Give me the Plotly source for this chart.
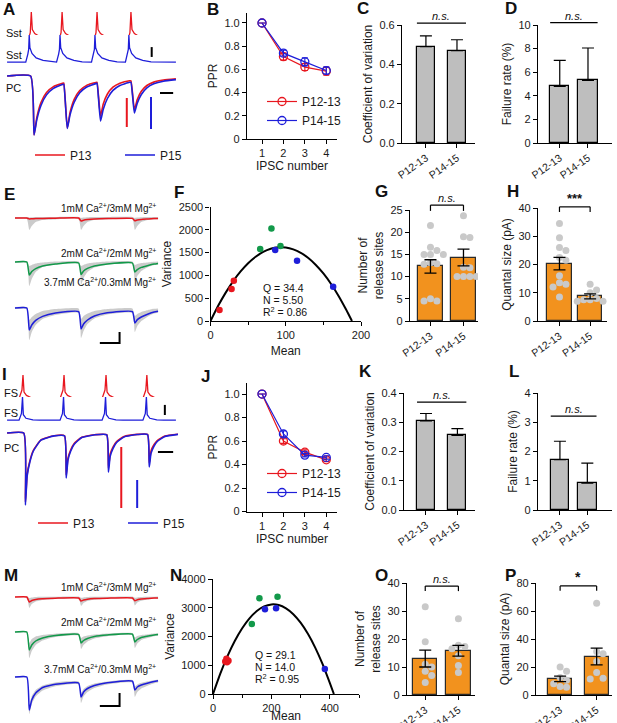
import plotly.graph_objects as go

W, H = 617, 723
FONT = "Liberation Sans, Arial, sans-serif"
RED, BLUE, GREEN = "#E8171F", "#1E1ED9", "#12994A"
ORANGE, BAR_GREY, DOT_GREY = "#F2921E", "#BEBEBE", "#C9C9C9"
GROUPS = ["P12-13", "P14-15"]

# ---------------- values ----------------
# A: Sst -> PC (ms, mV, pA)
A_SST_RED_PEAKS = [38, 82.5, 133, 182]
A_SST_BLUE_PEAKS = [35, 79.5, 130, 179]
SST_RED_SHAPE_T = [-4, -1.5, 0, 1.5, 5, 12, 22, 35]
SST_RED_SHAPE_V = [0, 20, 85, 30, 17, 8, 3, 0]
SST_BLUE_SHAPE_T = [-5, -2, -0.8, 0, 1, 4, 10, 20, 32]
SST_BLUE_SHAPE_V = [0, 25, 40, 85, 45, 27, 13, 5, 0.5]
A_IPSC_ONSETS = [37, 85, 133, 182]
A_IPSC_RED = [-590, -520, -400, -340]
A_IPSC_BLUE = [-590, -525, -450, -370]
A_DECAY_T = [5, 9, 15, 23, 33, 47]
A_DECAY_RED = [1, 0.7, 0.45, 0.28, 0.18, 0.12]
A_DECAY_BLUE = [1, 0.74, 0.5, 0.32, 0.21, 0.14]

# I: FS -> PC
I_FS_RED_PEAKS = [26, 85.3, 146, 205]
I_FS_BLUE_PEAKS = [25.3, 84.6, 145.3, 204.3]
FS_RED_SHAPE_T = [-6, -1.5, 0, 1.5, 5, 12, 25]
FS_RED_SHAPE_V = [0, 32, 85, 25, 13, 5, 0.5]
FS_BLUE_SHAPE_T = [-5, -1.5, 0, 1.2, 5, 15, 25]
FS_BLUE_SHAPE_V = [0, 25, 85, 20, 7, 1, 0]
I_IPSC_ONSETS = [27, 86, 147, 206]
I_IPSC_RED = [-690, -420, -350, -300]
I_IPSC_BLUE = [-720, -450, -390, -340]
I_DECAY_T = [2.5, 5, 9, 14, 25, 44]
I_DECAY = [1, 0.6, 0.4, 0.25, 0.1, 0.04]

# E / M: averaged IPSCs (coloured) and spread of single sweeps (grey), pA
T_EM = [1, 13, 15.5, 18, 22, 29, 42, 65.5, 68, 70.5, 74.5, 81.5, 94.5,
        120, 122.5, 125, 129, 136, 142, 146]
E_RED = [0, 0, -5, -4, -3, -2, -1, 0, -15, -11, -8, -5, -3, -2, -14, -10, -7, -5, -3, -2]
E_RED_LO = [-5, -5, -60, -40, -20, -10, -7, -6, -60, -40, -20, -10, -7, -6, -60, -40, -20, -10, -7, -6]
E_RED_HI = [5, 5, 3, 4, 5, 5, 5, 5, 0, 2, 4, 5, 5, 5, 0, 2, 4, 5, 5, 5]
E_GREEN = [0, 0, -65, -48, -33, -20, -10, -5, -62, -45, -32, -20, -10, -5, -50, -38, -27, -17, -10, -7]
E_GREEN_LO = [-5, -5, -120, -85, -50, -25, -12, -8, -115, -80, -50, -28, -14, -8, -95, -70, -45, -25, -15, -12]
E_GREEN_HI = [5, 5, -20, -15, -8, -3, 2, 3, -20, -15, -8, -3, 2, 3, -15, -10, -5, -2, 1, 2]
E_BLUE = [0, 0, -110, -85, -62, -42, -25, -18, -105, -80, -60, -40, -24, -18, -75, -58, -45, -30, -20, -16]
E_BLUE_LO = [-5, -5, -160, -120, -85, -55, -35, -25, -150, -115, -80, -52, -32, -25, -120, -90, -65, -42, -28, -24]
E_BLUE_HI = [5, 5, -60, -45, -30, -15, -5, -2, -55, -40, -28, -15, -5, -2, -40, -30, -20, -10, -4, -2]

M_RED = [0, 0, -50, -35, -25, -18, -12, -10, -40, -30, -22, -16, -12, -10, -38, -28, -20, -15, -11, -10]
M_RED_LO = [-6, -6, -110, -70, -45, -30, -20, -16, -90, -60, -40, -28, -18, -16, -85, -55, -38, -25, -18, -16]
M_RED_HI = [6, 6, -10, -5, 0, 2, 3, 4, -8, -4, 0, 2, 3, 4, -8, -4, 0, 2, 3, 4]
M_GREEN = [0, 0, -180, -130, -90, -60, -35, -25, -110, -85, -65, -45, -30, -22, -100, -75, -55, -40, -30, -26]
M_GREEN_LO = [-8, -8, -260, -190, -130, -85, -50, -38, -170, -130, -95, -65, -42, -34, -160, -115, -80, -58, -42, -38]
M_GREEN_HI = [6, 6, -110, -70, -45, -30, -18, -12, -60, -45, -35, -25, -15, -10, -55, -40, -30, -22, -15, -12]
M_BLUE = [0, 0, -330, -230, -160, -105, -72, -60, -200, -150, -115, -85, -58, -42, -130, -100, -80, -60, -45, -38]
M_BLUE_LO = [-8, -8, -370, -270, -195, -135, -92, -75, -260, -195, -150, -110, -75, -58, -200, -150, -115, -85, -62, -55]
M_BLUE_HI = [6, 6, -280, -190, -130, -85, -55, -46, -160, -120, -90, -65, -45, -30, -95, -75, -58, -42, -32, -26]

# scale bars: (x values, y values) in the units of the trace they sit on
A_BAR_MV = ([212, 212], [-18, -49])
A_BAR_MS = ([224, 243], [-170, -170])
A_BAR_RED = ([176, 176], [-220, -510])
A_BAR_BLUE = ([211, 211], [-210, -530])
I_BAR_MV = ([231, 231], [-9, -46])
I_BAR_MS = ([221, 243], [-190, -190])
I_BAR_RED = ([168, 168], [-140, -750])
I_BAR_BLUE = ([191, 191], [-470, -750])
E_BAR = ([87, 107, 107], [-175, -175, -120])
M_BAR = ([87, 107, 107], [-290, -290, -160])

# B / J: paired-pulse ratio
IPSC_N = [1, 2, 3, 4]
B_1213 = [1.0, 0.71, 0.62, 0.585]
B_1213_ERR = [0, 0.03, 0.03, 0.035]
B_1415 = [1.0, 0.74, 0.665, 0.59]
B_1415_ERR = [0, 0.025, 0.035, 0.03]
J_1213 = [1.0, 0.60, 0.505, 0.44]
J_1213_ERR = [0, 0.02, 0.02, 0.015]
J_1415 = [1.0, 0.66, 0.48, 0.46]
J_1415_ERR = [0, 0.025, 0.015, 0.015]

# C, D, K, L: mean + SEM
C_MEAN, C_SEM = [0.49, 0.47], [0.055, 0.055]
D_MEAN, D_SEM = [4.8, 5.3], [2.2, 2.75]
K_MEAN, K_SEM = [0.305, 0.255], [0.025, 0.023]
L_MEAN, L_SEM = [1.72, 0.92], [0.63, 0.68]

# F / N: variance-mean analysis
F_RED_M, F_RED_V = [12, 28, 31], [240, 700, 880]
F_GREEN_M, F_GREEN_V = [66, 81, 93], [1580, 2030, 1645]
F_BLUE_M, F_BLUE_V = [86, 115, 163], [1555, 1320, 750]
F_FIT_M = [0, 10, 20, 30, 40, 50, 60, 70, 80, 90, 100, 110, 120, 130, 140, 150, 160, 170, 180, 188]
F_FIT_V = [0, 327, 617, 870, 1086, 1266, 1409, 1515, 1584, 1617, 1613, 1572, 1495, 1381,
           1229, 1042, 817, 556, 258, 0]
N_RED_M, N_RED_V = [42, 46, 50, 53, 48], [1130, 1230, 1150, 1160, 1100]
N_GREEN_M, N_GREEN_V = [133, 159, 221], [2435, 3330, 3385]
N_BLUE_M, N_BLUE_V = [178, 216, 383], [2945, 2980, 870]
N_FIT_M = [0, 25, 50, 75, 100, 125, 150, 175, 200, 225, 250, 275, 300, 325, 350, 375, 400, 414]
N_FIT_V = [0, 709, 1327, 1854, 2289, 2633, 2885, 3046, 3116, 3094, 2981, 2777, 2481, 2094,
           1615, 1045, 384, 0]

# G, H, O, P: mean + SEM with single cells
G_MEAN, G_SEM = [12.3, 14.3], [1.5, 1.9]
G_CELLS = [[21.5, 16.6, 15.9, 15.0, 15.0, 15.0, 13.1, 12.9, 12.8, 5.0, 4.5, 4.5],
           [23.7, 19.0, 18.8, 12.1, 12.0, 10.0, 10.0, 10.0, 10.0]]
H_MEAN, H_SEM = [20.3, 8.7], [2.2, 0.9]
H_CELLS = [[34.5, 29.5, 26.0, 25.0, 22.5, 21.5, 16.0, 13.5, 13.0, 12.0, 8.5],
           [13.0, 11.0, 10.0, 8.0, 7.5, 7.5, 7.0, 7.0]]
O_MEAN, O_SEM = [13.0, 15.8], [3.0, 1.9]
O_CELLS = [[31.5, 19.0, 11.0, 10.0, 8.5, 7.0, 4.5],
           [27.2, 17.8, 17.3, 16.5, 14.0, 10.5, 8.0]]
P_MEAN, P_SEM = [11.5, 27.5], [2.0, 6.0]
P_CELLS = [[20.0, 17.0, 12.5, 10.5, 8.0, 6.0, 5.5],
           [65.5, 31.0, 29.5, 24.0, 16.0, 12.0, 11.5]]

# ---------------- helpers ----------------
AX = dict(showline=True, linecolor="black", linewidth=1.2, ticks="outside", ticklen=4,
          tickwidth=1.2, tickcolor="black", showgrid=False, zeroline=False,
          tickfont=dict(size=11, color="#1a1a1a"), fixedrange=True, automargin=False)
HIDDEN = dict(visible=False, fixedrange=True, automargin=False)
TFONT = dict(size=12, color="#1a1a1a")

fig = go.Figure()
layout = {}
annotations = []
shapes = []
n_x = n_y = 0


def xdom(a, b):
    return [a / W, b / W]


def ydom(top, bottom):
    return [1 - bottom / H, 1 - top / H]


def panel(xd, yd, xr, yr, xkw, ykw):
    global n_x, n_y
    n_x += 1
    n_y += 1
    xs = "" if n_x == 1 else str(n_x)
    ys = "" if n_y == 1 else str(n_y)
    layout["xaxis" + xs] = dict(domain=xdom(*xd), range=xr, anchor="y" + ys, **xkw)
    layout["yaxis" + ys] = dict(domain=ydom(*yd), range=yr, anchor="x" + xs, **ykw)
    return "x" + xs, "y" + ys


def extra_y(xa, yd, yr):
    global n_y
    n_y += 1
    layout["yaxis" + str(n_y)] = dict(domain=ydom(*yd), range=yr, anchor=xa, **HIDDEN)
    return "y" + str(n_y)


def note(text, x, y, size=11, xanchor="left", **kw):
    annotations.append(dict(text=text, x=x / W, y=1 - y / H, xref="paper", yref="paper",
                            showarrow=False, xanchor=xanchor, yanchor="middle",
                            font=dict(size=size, color="#111", family=FONT), **kw))


def line(x, y, xa, ya, color, width=1.3, shape="spline", **kw):
    fig.add_trace(go.Scatter(x=x, y=y, xaxis=xa, yaxis=ya, mode="lines",
                             line=dict(color=color, width=width, shape=shape, smoothing=0.45),
                             hoverinfo="skip", **kw))


def spikes(peaks, st, sv, base=-65, t0=3, t1=247):
    t, v = [t0], [base]
    for p in peaks:
        for d, s in zip(st, sv):
            t.append(p + d)
            v.append(base + s)
    t.append(t1)
    v.append(base)
    return t, v


def ipscs(onsets, peaks, dt, frac, t0=3, t1=247):
    t, v = [t0], [0]
    for on, pk in zip(onsets, peaks):
        t.append(on)
        v.append(v[-1])
        for d, f in zip(dt, frac):
            t.append(on + d)
            v.append(pk * f)
    if t1 > t[-1]:
        t.append(t1)
        v.append(v[-1] * 0.7)
    return t, v


def swarm(vals, xppu, yppu, d=7.0):
    placed, out = [], []
    for v in vals:
        for k in (0, 1, -1, 2, -2, 3, -3):
            ox = k * d * 0.92 / xppu
            if all(((ox - a) * xppu) ** 2 + ((v - b) * yppu) ** 2 >= (d * 0.92) ** 2
                   for a, b in placed):
                break
        placed.append((ox, v))
        out.append(ox)
    return out


def sig_mark(xa, ya, yr, x0, x1, level, text, drop=0, size=11):
    f = lambda v: (v - yr[0]) / (yr[1] - yr[0])
    yref = ya + " domain"
    base = dict(xref=xa, yref=yref, type="line", line=dict(color="black", width=1.2))
    shapes.append(dict(base, x0=x0, x1=x1, y0=f(level), y1=f(level)))
    if drop:
        shapes.append(dict(base, x0=x0, x1=x0, y0=f(level), y1=f(level - drop)))
        shapes.append(dict(base, x0=x1, x1=x1, y0=f(level), y1=f(level - drop)))
    annotations.append(dict(text=text, x=(x0 + x1) / 2, y=f(level), xref=xa, yref=yref,
                            showarrow=False, yanchor="bottom", yshift=-1,
                            font=dict(size=size, color="#111", family=FONT)))


def bar_panel(xd, yd, xr, yr, dtick, width, mean, sem, title, level, text,
              cells=None, drop=0, tickformat=None, tsize=11):
    xa, ya = panel(xd, yd, xr, yr,
                   dict(AX, tickvals=[0, 1], ticktext=GROUPS, tickangle=-35,
                        tickfont=dict(size=10.5, color="#1a1a1a")),
                   dict(AX, dtick=dtick, tickformat=tickformat,
                        title=dict(text=title, standoff=4, font=TFONT)))
    if cells:
        fig.add_trace(go.Bar(x=[0, 1], y=mean, width=width, xaxis=xa, yaxis=ya,
                             marker=dict(color=ORANGE, line=dict(color="#2a2a2a", width=1.2)),
                             hoverinfo="skip"))
        xppu = (xd[1] - xd[0]) / (xr[1] - xr[0])
        yppu = (yd[1] - yd[0]) / (yr[1] - yr[0])
        for i, vals in enumerate(cells):
            offs = swarm(vals, xppu, yppu)
            fig.add_trace(go.Scatter(x=[i + o for o in offs], y=vals, xaxis=xa, yaxis=ya,
                                     mode="markers", marker=dict(size=7, color=DOT_GREY),
                                     hoverinfo="skip"))
        fig.add_trace(go.Scatter(x=[0, 1], y=mean, xaxis=xa, yaxis=ya, mode="markers",
                                 marker=dict(size=1, color="rgba(0,0,0,0)"),
                                 error_y=dict(type="data", array=sem, color="black",
                                              thickness=1.3, width=6),
                                 hoverinfo="skip"))
        sig_mark(xa, ya, yr, 0, 1, level, text, drop, tsize)
    else:
        fig.add_trace(go.Bar(x=[0, 1], y=mean, width=width, xaxis=xa, yaxis=ya,
                             marker=dict(color=BAR_GREY, line=dict(color="black", width=1.2)),
                             error_y=dict(type="data", symmetric=False, array=sem,
                                          arrayminus=[0, 0], color="black",
                                          thickness=1.2, width=6),
                             hoverinfo="skip"))
        sig_mark(xa, ya, yr, -width / 2, 1 + width / 2, level, text, 0, tsize)


def ppr_panel(xd, yd, yr, a, a_err, b, b_err, legend):
    xa, ya = panel(xd, yd, [0.3, 4.5], yr,
                   dict(AX, tickvals=IPSC_N, title=dict(text="IPSC number", standoff=2, font=TFONT)),
                   dict(AX, tickvals=[0, 0.2, 0.4, 0.6, 0.8, 1.0],
                        ticktext=["0", "0.2", "0.4", "0.6", "0.8", "1.0"],
                        title=dict(text="PPR", standoff=4, font=TFONT)))
    for vals, err, col, name in ((a, a_err, RED, GROUPS[0]), (b, b_err, BLUE, GROUPS[1])):
        fig.add_trace(go.Scatter(x=IPSC_N, y=vals, xaxis=xa, yaxis=ya, name=name,
                                 mode="lines+markers", legend=legend, showlegend=True,
                                 line=dict(color=col, width=1.2),
                                 marker=dict(symbol="circle-open", size=8, color=col,
                                             line=dict(width=1.3)),
                                 error_y=dict(type="data", array=err, color=col,
                                              thickness=1.1, width=3),
                                 hoverinfo="skip"))


def vm_panel(xd, yd, xr, yr, xdtick, xminor, ydtick, pts, fit, qnr, text_xy):
    xa, ya = panel(xd, yd, xr, yr,
                   dict(AX, dtick=xdtick, minor=dict(dtick=xminor, ticks="outside", ticklen=3,
                                                     tickwidth=1.2, tickcolor="black"),
                        title=dict(text="Mean", standoff=6, font=TFONT)),
                   dict(AX, dtick=ydtick, title=dict(text="Variance", standoff=4, font=TFONT)))
    line(fit[0], fit[1], xa, ya, "black", width=2, shape="spline")
    for (mx, vy), col in zip(pts, (RED, GREEN, BLUE)):
        fig.add_trace(go.Scatter(x=mx, y=vy, xaxis=xa, yaxis=ya, mode="markers",
                                 marker=dict(size=6.5, color=col), hoverinfo="skip",
                                 cliponaxis=False))
    x0, y0 = text_xy
    for i, s in enumerate(qnr):
        note(s, x0, y0 + i * 11.5, size=10.5)


def ephys_block(xa, yas, traces, labels, label_ys):
    for ya, (mean, lo, hi, col) in zip(yas, traces):
        fig.add_trace(go.Scatter(x=T_EM, y=hi, xaxis=xa, yaxis=ya, mode="lines",
                                 line=dict(width=0, shape="spline", smoothing=0.45),
                                 hoverinfo="skip"))
        fig.add_trace(go.Scatter(x=T_EM, y=lo, xaxis=xa, yaxis=ya, mode="lines",
                                 fill="tonexty", fillcolor="rgba(190,190,190,0.8)",
                                 line=dict(width=0, shape="spline", smoothing=0.45),
                                 hoverinfo="skip"))
        line(T_EM, mean, xa, ya, col, width=1.5)
    for lab, ly in zip(labels, label_ys):
        note(lab, 158, ly, size=10, xanchor="right")


CA = ["1mM Ca<sup>2+</sup>/3mM Mg<sup>2+</sup>",
      "2mM Ca<sup>2+</sup>/2mM Mg<sup>2+</sup>",
      "3.7mM Ca<sup>2+</sup>/0.3mM Mg<sup>2+</sup>"]

# ---------------- A-D ----------------
xa, ya1 = panel([5, 178], [12, 40], [0, 250], [-68, 20], HIDDEN, HIDDEN)
ya2 = extra_y(xa, [35, 63], [-68, 20])
ya3 = extra_y(xa, [70, 140], [-640, 60])
line(*spikes(A_SST_RED_PEAKS, SST_RED_SHAPE_T, SST_RED_SHAPE_V), xa, ya1, RED, shape="linear")
line(*spikes(A_SST_BLUE_PEAKS, SST_BLUE_SHAPE_T, SST_BLUE_SHAPE_V), xa, ya2, BLUE, shape="linear")
line(*ipscs(A_IPSC_ONSETS, A_IPSC_RED, A_DECAY_T, A_DECAY_RED), xa, ya3, RED, width=1.6,
     name="P13", legend="legend3", showlegend=True)
line(*ipscs(A_IPSC_ONSETS, A_IPSC_BLUE, A_DECAY_T, A_DECAY_BLUE), xa, ya3, BLUE, width=1.6,
     name="P15", legend="legend3", showlegend=True)
line(*A_BAR_MV, xa, ya2, "black", width=2, shape="linear")
line(*A_BAR_MS, xa, ya3, "black", width=2, shape="linear")
line(*A_BAR_RED, xa, ya3, RED, width=2, shape="linear")
line(*A_BAR_BLUE, xa, ya3, BLUE, width=2, shape="linear")
note("Sst", 4, 33)
note("Sst", 4, 55)
note("PC", 4, 88)

ppr_panel([247, 337], [13, 139], [0, 1.086], B_1213, B_1213_ERR, B_1415, B_1415_ERR, "legend")
bar_panel([402, 475], [25, 143], [-0.77, 1.58], [0, 0.6], 0.2, 0.58, C_MEAN, C_SEM,
          "Coefficient of variation", 0.61, "<i>n.s.</i>", tickformat=".1f")
bar_panel([538, 612], [25, 143], [-0.77, 1.85], [0, 10], 2, 0.68, D_MEAN, D_SEM,
          "Failure rate (%)", 10.2, "<i>n.s.</i>")

# ---------------- E-H ----------------
xa, ye1 = panel([14, 162], [210, 240], [0, 150], [-110, 40], HIDDEN, HIDDEN)
ye2 = extra_y(xa, [254, 290], [-140, 40])
ye3 = extra_y(xa, [300, 345], [-185, 40])
ephys_block(xa, [ye1, ye2, ye3],
            [(E_RED, E_RED_LO, E_RED_HI, RED), (E_GREEN, E_GREEN_LO, E_GREEN_HI, GREEN),
             (E_BLUE, E_BLUE_LO, E_BLUE_HI, BLUE)], CA, [208, 253, 282])
line(*E_BAR, xa, ye3, "black", width=2, shape="linear")

vm_panel([210.5, 361], [207, 321], [0, 200], [0, 2500], 100, 50, 500,
         [(F_RED_M, F_RED_V), (F_GREEN_M, F_GREEN_V), (F_BLUE_M, F_BLUE_V)],
         (F_FIT_M, F_FIT_V), ["Q = 34.4", "N = 5.50", "R<sup>2</sup> = 0.86"], (261, 288))
bar_panel([410, 478], [210, 321], [-0.62, 1.44], [0, 25], 5, 0.76, G_MEAN, G_SEM,
          "Number of<br>release sites", 26.1, "<i>n.s.</i>", cells=G_CELLS, drop=1.3)
bar_panel([538, 607], [208, 321], [-0.7, 1.55], [0, 40], 10, 0.8, H_MEAN, H_SEM,
          "Quantal size (pA)", 40.4, "<b>***</b>", cells=H_CELLS, drop=1.8, tsize=13)

# ---------------- I-L ----------------
xa, yi1 = panel([5, 178], [375, 400], [0, 250], [-68, 20], HIDDEN, HIDDEN)
yi2 = extra_y(xa, [397, 421], [-68, 20])
yi3 = extra_y(xa, [428, 513], [-800, 50])
line(*spikes(I_FS_RED_PEAKS, FS_RED_SHAPE_T, FS_RED_SHAPE_V), xa, yi1, RED, shape="linear")
line(*spikes(I_FS_BLUE_PEAKS, FS_BLUE_SHAPE_T, FS_BLUE_SHAPE_V), xa, yi2, BLUE, shape="linear")
line(*ipscs(I_IPSC_ONSETS, I_IPSC_RED, I_DECAY_T, I_DECAY), xa, yi3, RED, width=1.6,
     name="P13", legend="legend4", showlegend=True)
line(*ipscs(I_IPSC_ONSETS, I_IPSC_BLUE, I_DECAY_T, I_DECAY), xa, yi3, BLUE, width=1.6,
     name="P15", legend="legend4", showlegend=True)
line(*I_BAR_MV, xa, yi2, "black", width=2, shape="linear")
line(*I_BAR_MS, xa, yi3, "black", width=2, shape="linear")
line(*I_BAR_RED, xa, yi3, RED, width=2, shape="linear")
line(*I_BAR_BLUE, xa, yi3, BLUE, width=2, shape="linear")
note("FS", 2, 393)
note("FS", 2, 413)
note("PC", 2, 448)

ppr_panel([247, 337], [383, 511.5], [0, 1.094], J_1213, J_1213_ERR, J_1415, J_1415_ERR, "legend2")
bar_panel([404, 475], [393, 510], [-0.7, 1.56], [0, 0.4], 0.1, 0.57, K_MEAN, K_SEM,
          "Coefficient of variation", 0.369, "<i>n.s.</i>", tickformat=".1f")
bar_panel([538, 612], [393, 510], [-0.8, 1.9], [0, 4], 1, 0.67, L_MEAN, L_SEM,
          "Failure rate (%)", 3.21, "<i>n.s.</i>")

# ---------------- M-P ----------------
xa, ym1 = panel([14, 162], [590, 615], [0, 150], [-180, 70], HIDDEN, HIDDEN)
ym2 = extra_y(xa, [625, 660], [-280, 70])
ym3 = extra_y(xa, [670, 716], [-390, 70])
ephys_block(xa, [ym1, ym2, ym3],
            [(M_RED, M_RED_LO, M_RED_HI, RED), (M_GREEN, M_GREEN_LO, M_GREEN_HI, GREEN),
             (M_BLUE, M_BLUE_LO, M_BLUE_HI, BLUE)], CA, [587, 622, 669])
line(*M_BAR, xa, ym3, "black", width=2, shape="linear")

vm_panel([213, 359], [579, 694], [0, 500], [0, 4000], 200, 100, 1000,
         [(N_RED_M, N_RED_V), (N_GREEN_M, N_GREEN_V), (N_BLUE_M, N_BLUE_V)],
         (N_FIT_M, N_FIT_V), ["Q = 29.1", "N = 14.0", "R<sup>2</sup> = 0.95"], (253, 655))
bar_panel([407, 475], [583, 695], [-0.55, 1.5], [0, 40], 10, 0.73, O_MEAN, O_SEM,
          "Number of<br>release sites", 38.9, "<i>n.s.</i>", cells=O_CELLS, drop=1.8)
bar_panel([536, 612], [583, 695], [-0.66, 1.42], [0, 80], 20, 0.66, P_MEAN, P_SEM,
          "Quantal size (pA)", 77.9, "<b>*</b>", cells=P_CELLS, drop=3.5, tsize=14)

# ---------------- panel letters ----------------
for letter, x, y in [("A", 1, 10), ("B", 205, 10), ("C", 355, 9), ("D", 503, 9),
                     ("E", 2, 195), ("F", 172, 193), ("G", 373, 192), ("H", 505, 192),
                     ("I", 0, 374), ("J", 199, 376), ("K", 357, 372), ("L", 507, 372),
                     ("M", 2, 575), ("N", 168, 575), ("O", 373, 575), ("P", 503, 575)]:
    note("<b>%s</b>" % letter, x, y, size=17)

LEG = dict(bgcolor="rgba(0,0,0,0)", font=dict(size=12, color="#1a1a1a", family=FONT),
           itemwidth=30, tracegroupgap=0, itemclick=False, itemdoubleclick=False,
           traceorder="normal", xanchor="left", yanchor="middle")
layout.update(
    width=W, height=H, margin=dict(l=0, r=0, t=0, b=0, autoexpand=False),
    paper_bgcolor="white", plot_bgcolor="white",
    font=dict(family=FONT, size=11, color="#1a1a1a"),
    showlegend=True, bargap=0,
    legend=dict(LEG, x=262 / W, y=1 - 111 / H),
    legend2=dict(LEG, x=262 / W, y=1 - 483 / H),
    legend3=dict(LEG, x=30 / W, y=1 - 155 / H, orientation="h", entrywidth=45,
                 entrywidthmode="pixels"),
    legend4=dict(LEG, x=33 / W, y=1 - 523 / H, orientation="h", entrywidth=45,
                 entrywidthmode="pixels"),
    annotations=annotations, shapes=shapes,
)
for tr in fig.data:
    if tr.showlegend is None:
        tr.showlegend = False
fig.update_layout(**layout)
fig.write_html("out.html", config={"displayModeBar": False},
               post_script="document.body.style.margin = '0px';")
